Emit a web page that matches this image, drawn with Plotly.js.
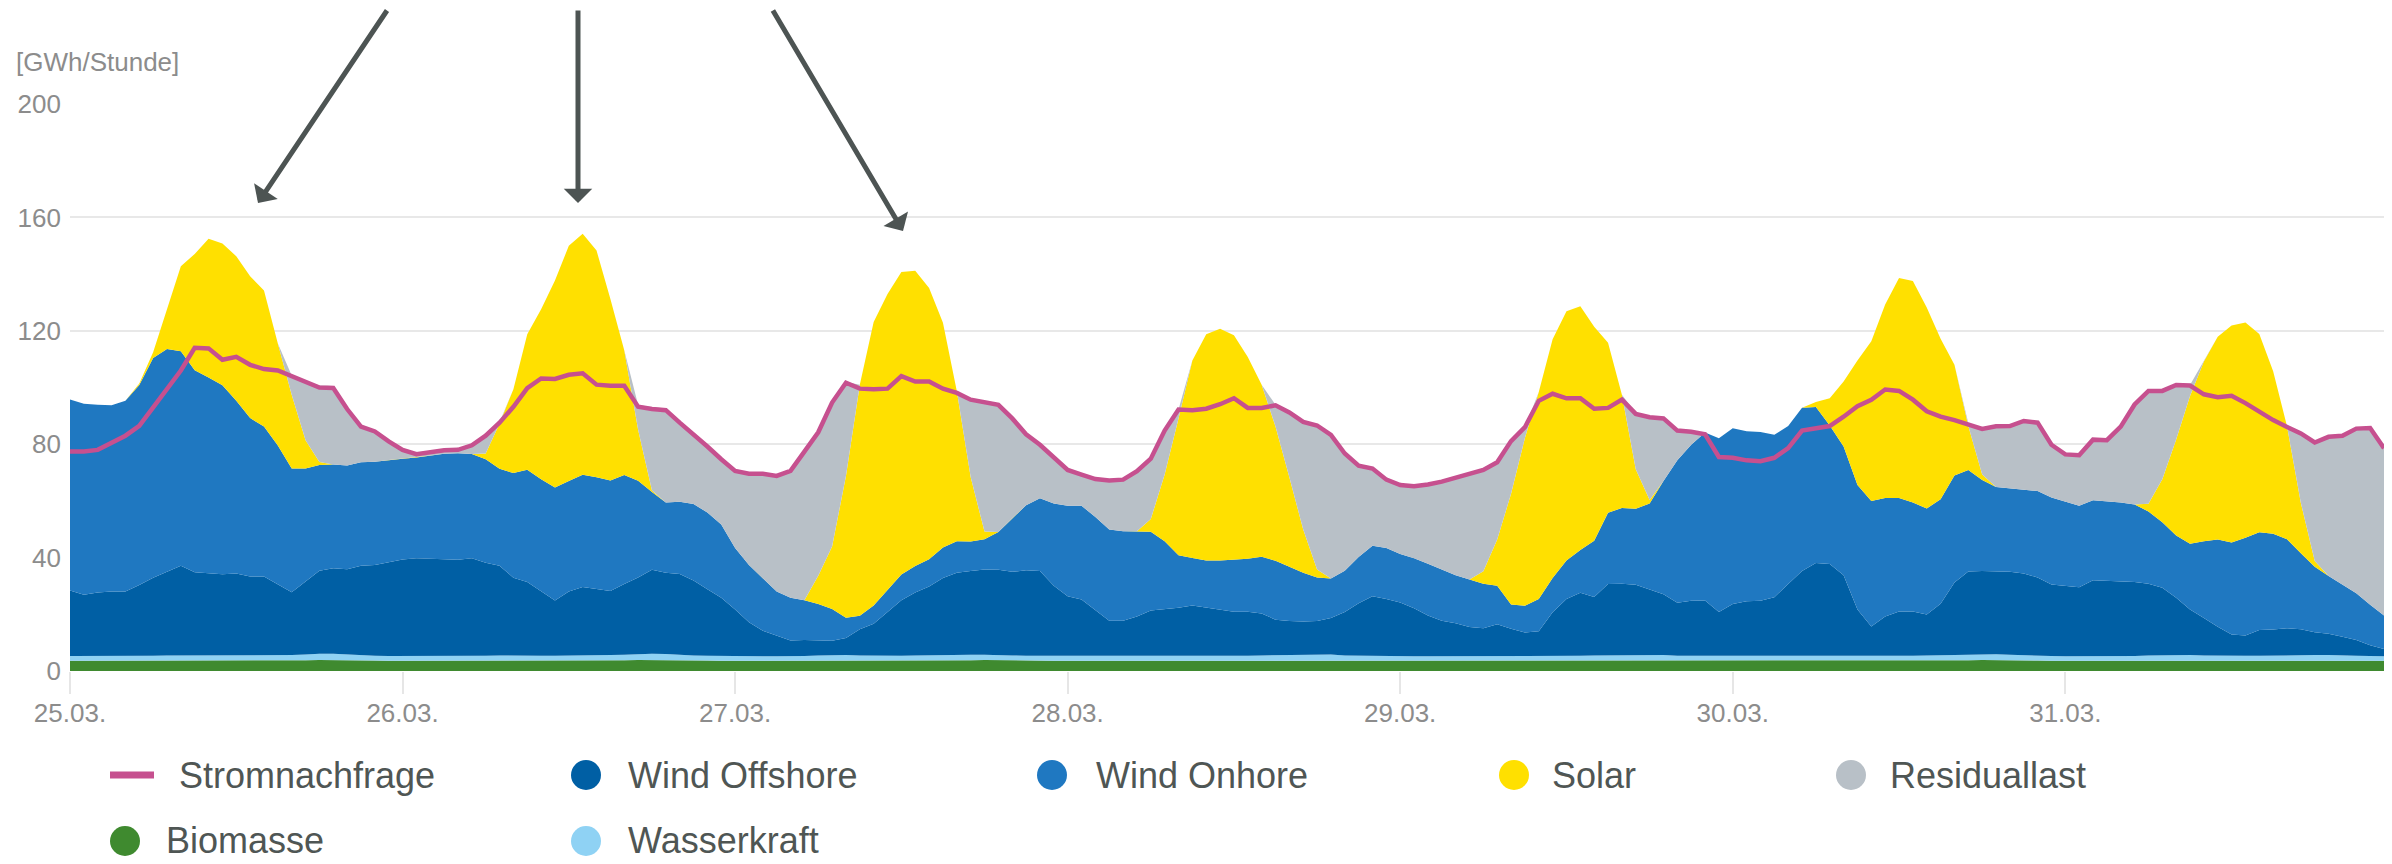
<!DOCTYPE html>
<html>
<head>
<meta charset="utf-8">
<script src="https://cdn.plot.ly/plotly-3.0.1.min.js"></script>
<style>
  html, body { margin: 0; padding: 0; background: #ffffff; }
  #chart { width: 2392px; height: 864px; }
</style>
</head>
<body>
<div id="chart"></div>
<script>
// ---------------- DATA (hourly, 25.03. 00:00 – 31.03. 23:00) ----------------
const startYear = 2023, startMonth = 2, startDay = 25; // 25.03.

const stromnachfrage = [
  77.4, 77.4, 78.0, 80.6, 83.0, 86.5, 93.0, 100.0, 106.0, 114.0, 113.8, 109.8, 110.8, 108.0, 106.5, 106.0, 104.0, 102.0, 100.0, 99.8, 92.4, 86.2, 84.5, 81.0,
  78.0, 76.5, 77.3, 77.9, 78.0, 79.6, 83.0, 87.6, 93.2, 99.8, 103.2, 103.0, 104.5, 105.0, 101.0, 100.6, 100.6, 93.2, 92.4, 92.0, 87.6, 83.5, 79.2, 74.7,
  70.6, 69.6, 69.6, 68.8, 70.6, 77.4, 84.2, 94.7, 101.7, 99.6, 99.4, 99.6, 104.0, 102.1, 102.1, 99.6, 98.1, 95.7, 94.9, 93.9, 89.1, 83.5, 79.8, 75.5,
  70.9, 69.3, 67.7, 67.2, 67.5, 70.5, 74.9, 84.8, 92.2, 92.0, 92.5, 94.1, 96.2, 92.8, 92.8, 93.7, 91.2, 87.9, 86.6, 83.3, 76.7, 72.4, 71.4, 67.5,
  65.6, 65.2, 65.8, 66.8, 68.1, 69.7, 70.9, 73.6, 81.1, 86.0, 95.3, 97.8, 96.2, 96.2, 92.5, 92.8, 95.7, 90.7, 89.5, 89.1, 84.8, 84.4, 83.5, 75.5,
  75.2, 74.3, 74.0, 75.2, 78.6, 84.8, 85.4, 86.4, 89.7, 93.4, 95.7, 99.3, 98.8, 95.7, 91.6, 89.7, 88.5, 87.0, 85.4, 86.3, 86.4, 88.2, 87.6, 79.8,
  76.4, 76.1, 81.6, 81.4, 86.2, 94.0, 98.8, 98.8, 100.9, 100.7, 97.6, 96.6, 97.1, 94.5, 91.5, 88.5, 86.1, 83.8, 80.6, 82.6, 83.0, 85.5, 85.7, 78.6
];

const biomasse = [
  3.6, 3.6, 3.6, 3.6, 3.6, 3.7, 3.7, 3.7, 3.7, 3.8, 3.8, 3.8, 3.8, 3.8, 3.8, 3.8, 3.8, 3.8, 3.9, 3.9, 3.8, 3.7, 3.7, 3.6,
  3.6, 3.6, 3.6, 3.6, 3.6, 3.6, 3.7, 3.7, 3.7, 3.8, 3.8, 3.8, 3.8, 3.8, 3.8, 3.8, 3.8, 3.9, 3.9, 3.9, 3.8, 3.7, 3.7, 3.6,
  3.6, 3.6, 3.6, 3.6, 3.6, 3.6, 3.7, 3.7, 3.8, 3.8, 3.8, 3.8, 3.8, 3.8, 3.8, 3.8, 3.8, 3.8, 3.9, 3.8, 3.8, 3.7, 3.7, 3.6,
  3.6, 3.6, 3.6, 3.6, 3.6, 3.6, 3.7, 3.7, 3.7, 3.8, 3.8, 3.8, 3.8, 3.8, 3.8, 3.8, 3.8, 3.8, 3.8, 3.8, 3.7, 3.7, 3.7, 3.6,
  3.6, 3.6, 3.6, 3.6, 3.6, 3.6, 3.6, 3.7, 3.7, 3.7, 3.8, 3.8, 3.8, 3.8, 3.8, 3.8, 3.8, 3.8, 3.8, 3.8, 3.7, 3.7, 3.7, 3.6,
  3.6, 3.6, 3.6, 3.6, 3.6, 3.6, 3.7, 3.7, 3.7, 3.8, 3.8, 3.8, 3.8, 3.8, 3.8, 3.8, 3.8, 3.8, 3.9, 3.9, 3.8, 3.7, 3.7, 3.6,
  3.6, 3.6, 3.6, 3.6, 3.6, 3.6, 3.7, 3.7, 3.7, 3.8, 3.8, 3.8, 3.8, 3.8, 3.8, 3.8, 3.8, 3.8, 3.8, 3.8, 3.7, 3.7, 3.7, 3.6
];

const wasserkraft = [
  1.7, 1.7, 1.6, 1.6, 1.6, 1.6, 1.7, 1.8, 1.8, 1.7, 1.6, 1.6, 1.6, 1.6, 1.6, 1.7, 1.8, 2.0, 2.2, 2.2, 2.0, 1.8, 1.7, 1.7,
  1.7, 1.6, 1.6, 1.6, 1.6, 1.6, 1.7, 1.8, 1.7, 1.6, 1.6, 1.6, 1.6, 1.6, 1.7, 1.8, 1.9, 2.1, 2.2, 2.1, 1.9, 1.8, 1.7, 1.7,
  1.7, 1.6, 1.6, 1.6, 1.6, 1.7, 1.8, 1.9, 1.8, 1.7, 1.6, 1.6, 1.6, 1.7, 1.8, 1.9, 2.0, 1.9, 1.8, 1.7, 1.7, 1.7, 1.7, 1.6,
  1.6, 1.6, 1.6, 1.6, 1.6, 1.6, 1.7, 1.7, 1.7, 1.6, 1.6, 1.6, 1.6, 1.6, 1.7, 1.8, 1.9, 2.0, 2.1, 2.0, 1.8, 1.7, 1.7, 1.6,
  1.6, 1.6, 1.6, 1.6, 1.6, 1.6, 1.7, 1.7, 1.7, 1.6, 1.6, 1.6, 1.6, 1.6, 1.7, 1.7, 1.8, 1.9, 1.9, 1.8, 1.7, 1.7, 1.6, 1.6,
  1.6, 1.6, 1.6, 1.6, 1.6, 1.6, 1.7, 1.7, 1.7, 1.6, 1.6, 1.6, 1.6, 1.6, 1.7, 1.8, 1.9, 2.0, 2.1, 2.0, 1.9, 1.8, 1.7, 1.7,
  1.6, 1.6, 1.6, 1.6, 1.6, 1.7, 1.8, 1.9, 1.9, 1.8, 1.7, 1.6, 1.6, 1.6, 1.6, 1.7, 1.7, 1.8, 1.8, 1.8, 1.7, 1.7, 1.6, 1.6
];

const windOffshore = [
  23.1, 21.6, 22.5, 22.8, 22.8, 25.0, 27.5, 29.6, 31.6, 29.3, 29.0, 28.7, 29.0, 27.9, 27.9, 25.2, 22.2, 25.8, 29.3, 30.1, 30.1, 31.6, 32.0, 33.1,
  34.0, 34.6, 34.4, 34.0, 34.0, 34.6, 32.8, 31.6, 27.5, 26.0, 22.8, 19.5, 22.6, 24.2, 23.4, 22.6, 25.0, 27.0, 29.6, 28.7, 28.5, 26.4, 23.4, 20.5,
  16.4, 12.0, 9.0, 7.3, 5.6, 5.6, 5.4, 5.1, 6.0, 9.2, 11.3, 15.3, 19.6, 22.2, 24.2, 27.1, 28.9, 29.6, 30.1, 30.2, 29.5, 30.1, 29.9, 24.9,
  21.2, 20.0, 16.3, 12.5, 12.5, 14.0, 15.9, 16.4, 16.9, 17.7, 17.0, 16.4, 15.5, 15.5, 14.8, 12.5, 11.9, 11.7, 11.7, 12.9, 15.3, 18.5, 21.0, 20.2,
  19.0, 16.9, 14.4, 12.5, 11.6, 10.3, 9.8, 11.1, 9.5, 8.3, 8.6, 15.3, 20.0, 22.2, 20.6, 25.2, 25.2, 24.7, 23.1, 21.5, 18.7, 19.4, 19.6, 15.6,
  18.4, 19.4, 19.6, 20.8, 25.5, 30.1, 32.7, 32.3, 28.4, 16.3, 10.3, 13.8, 15.6, 15.6, 14.4, 18.1, 25.5, 29.3, 29.3, 29.3, 29.3, 28.9, 27.6, 25.2,
  24.9, 24.3, 26.8, 26.6, 26.3, 26.1, 25.3, 23.8, 20.2, 16.1, 13.2, 10.2, 7.5, 7.1, 9.1, 9.1, 9.6, 9.1, 8.1, 7.5, 6.7, 5.5, 3.8, 2.6
];

const windOnshore = [
  67.4, 67.4, 66.2, 65.7, 67.3, 70.6, 77.5, 78.5, 75.7, 71.3, 69.1, 66.7, 60.9, 55.9, 52.9, 48.8, 43.6, 39.8, 37.3, 36.6, 36.6, 36.5, 36.4, 36.0,
  35.6, 35.5, 36.4, 37.4, 37.6, 36.7, 36.5, 34.2, 36.9, 39.6, 39.4, 39.8, 39.0, 39.6, 39.4, 39.0, 38.4, 34.1, 27.4, 24.7, 25.5, 27.0, 27.1, 25.9,
  21.7, 20.2, 18.5, 15.5, 15.0, 14.1, 12.7, 11.2, 7.2, 4.8, 6.4, 7.8, 9.0, 9.3, 9.6, 10.8, 11.1, 10.4, 10.7, 13.3, 18.9, 23.0, 25.6, 29.0,
  31.9, 33.1, 32.8, 32.2, 31.6, 30.1, 27.8, 24.0, 18.5, 16.8, 16.6, 17.2, 18.3, 18.7, 20.0, 20.8, 19.2, 17.2, 15.4, 13.9, 14.6, 16.3, 17.8, 18.0,
  17.1, 17.7, 18.2, 18.0, 17.0, 16.8, 15.7, 13.6, 8.6, 9.4, 11.4, 12.1, 13.6, 15.1, 19.8, 25.1, 26.7, 26.8, 30.3, 39.9, 50.2, 55.0, 59.2, 61.3,
  62.0, 60.0, 59.5, 57.3, 55.7, 57.6, 55.0, 48.9, 45.4, 43.9, 44.3, 41.8, 40.0, 38.4, 37.4, 36.9, 37.8, 35.8, 32.1, 29.7, 29.4, 29.4, 30.5, 30.7,
  29.7, 28.8, 28.2, 28.1, 27.9, 27.3, 25.5, 23.1, 22.0, 23.2, 27.1, 30.8, 32.4, 34.5, 34.4, 33.8, 31.4, 26.8, 23.1, 20.4, 18.2, 16.5, 14.3, 11.8
];

const solar = [
  0, 0, 0, 0, 0, 0.5, 2, 14, 30, 41, 49, 50, 51, 50, 48, 36, 26, 10, 1, 0, 0, 0, 0, 0,
  0, 0, 0, 0, 0, 0, 2, 16, 29.6, 47.8, 60, 73, 83, 85, 80, 64, 44, 18, 0.6, 0, 0, 0, 0, 0,
  0, 0, 0, 0, 0, 0, 10, 22, 50, 81.5, 100, 104.5, 106.7, 104.2, 95.7, 79.2, 53, 22.7, 2.7, 0, 0, 0, 0, 0,
  0, 0, 0, 0, 0, 0, 4.5, 23.5, 48.3, 69.6, 79.8, 81.7, 79.2, 71.2, 60.7, 47.3, 31.5, 15.2, 2.8, 0, 0, 0, 0, 0,
  0, 0, 0, 0, 0, 0, 4.4, 16.3, 39, 59.2, 73, 84.2, 87.9, 86, 75.5, 60, 39.9, 14, 1.2, 0, 0, 0, 0, 0,
  0, 0, 0, 0, 0, 0, 1.8, 9.6, 22.9, 43.9, 56.3, 68.3, 77.6, 78.2, 70.9, 56.6, 39, 15.5, 1.9, 0, 0, 0, 0, 0,
  0, 0, 0, 0, 0, 0, 2.7, 15.1, 33.9, 52.1, 63.4, 71.5, 76.6, 75.9, 70, 57.3, 39.8, 17.8, 2, 0, 0, 0, 0, 0
];

const residuallast = [
  0, 0, 0, 0, 0, 0, 0, 0, 0, 0, 0, 0, 0, 0, 0, 0, 6.8, 21, 27, 27.7, 20.3, 12.7, 10.7, 6.5,
  3.0, 1.0, 1.1, 1.1, 1.0, 2.9, 6.3, 0.4, 0, 0, 0, 0, 0, 0, 0, 0, 0, 8.7, 29.4, 33.2, 28.2, 24.7, 23.3, 22.9,
  27.1, 32.0, 36.7, 40.6, 44.6, 52.3, 50.7, 51.0, 33.1, 0, 0, 0, 0, 0, 0, 0, 0, 27.6, 46.0, 45.0, 35.3, 25.0, 18.9, 16.2,
  12.4, 10.8, 13.2, 17.1, 18.0, 21.0, 21.3, 15.5, 3.1, 0, 0, 0, 0, 0, 0, 7.7, 23.2, 38.4, 51.3, 51.1, 41.4, 32.2, 27.2, 23.9,
  24.1, 25.2, 27.8, 30.9, 34.1, 37.2, 35.6, 27.2, 18.6, 3.7, 0, 0, 0, 0, 0, 0, 0, 19.8, 29.5, 22.3, 10.5, 4.6, 0, 0,
  0, 0, 0, 0, 0, 0, 0, 0, 0, 0, 0, 0, 0, 0, 0, 0, 0, 1.0, 16.7, 21.9, 22.3, 24.5, 24.1, 18.5,
  16.4, 17.6, 21.2, 21.3, 26.6, 35.2, 39.9, 31.4, 19.4, 3.9, 0, 0, 0, 0, 0, 0, 0, 24.7, 42.0, 49.3, 52.7, 58.1, 62.2, 58.8
];

const seriesNames = ['Stromnachfrage', 'Wind Offshore', 'Wind Onhore', 'Solar', 'Residuallast', 'Biomasse', 'Wasserkraft'];
const yAxisLabel = '[GWh/Stunde]';

// ---------------- time stamps ----------------
const hours = [];
for (let i = 0; i < stromnachfrage.length; i++) {
  const d = new Date(Date.UTC(startYear, startMonth, startDay, i));
  hours.push(d.toISOString().slice(0, 16).replace('T', ' '));
}

// ---------------- styling ----------------
const COLORS = {
  'Stromnachfrage': '#c6508f',
  'Wind Offshore': '#005fa4',
  'Wind Onhore': '#1f78c1',
  'Solar': '#ffe000',
  'Residuallast': '#b8c0c7',
  'Biomasse': '#3f8a2f',
  'Wasserkraft': '#8fd2f4'
};

function area(name, y) {
  return {
    type: 'scatter', mode: 'lines', x: hours, y: y, name: name,
    stackgroup: 'energie', fillcolor: COLORS[name],
    line: { width: 0, color: COLORS[name] }, showlegend: false
  };
}

const traces = [
  area('Biomasse', biomasse),
  area('Wasserkraft', wasserkraft),
  area('Wind Offshore', windOffshore),
  area('Wind Onhore', windOnshore),
  area('Solar', solar),
  area('Residuallast', residuallast),
  {
    type: 'scatter', mode: 'lines', x: hours, y: stromnachfrage, name: 'Stromnachfrage',
    line: { color: COLORS['Stromnachfrage'], width: 4.5 }, showlegend: false
  }
];

// pixel -> paper helpers (plot area: x 70..2384, y 104..671)
const PL = 70, PW = 2314, PB = 671, PH = 567;
const px = X => (X - PL) / PW;
const py = Y => (PB - Y) / PH;

// legend (drawn manually: items laid out in a grid)
const legendLayout = [
  { name: 'Stromnachfrage', kind: 'line',   sx: 132,  tx: 177,  row: 775 },
  { name: 'Wind Offshore',  kind: 'circle', sx: 586,  tx: 626,  row: 775 },
  { name: 'Wind Onhore',    kind: 'circle', sx: 1052, tx: 1094, row: 775 },
  { name: 'Solar',          kind: 'circle', sx: 1514, tx: 1550, row: 775 },
  { name: 'Residuallast',   kind: 'circle', sx: 1851, tx: 1888, row: 775 },
  { name: 'Biomasse',       kind: 'circle', sx: 125,  tx: 164,  row: 841 },
  { name: 'Wasserkraft',    kind: 'circle', sx: 586,  tx: 626,  row: 841 }
];

const shapes = [];
const annotations = [];
legendLayout.forEach(it => {
  const c = COLORS[it.name];
  if (it.kind === 'line') {
    shapes.push({ type: 'line', xref: 'paper', yref: 'paper',
      x0: px(it.sx - 22), x1: px(it.sx + 22), y0: py(it.row), y1: py(it.row),
      line: { color: c, width: 7 } });
  } else {
    shapes.push({ type: 'circle', xref: 'paper', yref: 'paper',
      xsizemode: 'pixel', ysizemode: 'pixel', xanchor: px(it.sx), yanchor: py(it.row),
      x0: -15, x1: 15, y0: -15, y1: 15, fillcolor: c, line: { width: 0 } });
  }
  annotations.push({ xref: 'paper', yref: 'paper', x: px(it.tx), y: py(it.row),
    xanchor: 'left', yanchor: 'middle', showarrow: false, text: it.name,
    font: { size: 36, color: '#4f5654' } });
});

// y axis unit label
annotations.push({ xref: 'paper', yref: 'paper', x: px(14), y: py(62), xanchor: 'left', yanchor: 'middle',
  showarrow: false, text: yAxisLabel, font: { size: 26, color: '#8c8c8c' } });

// arrows
const arrowStyle = { text: '', showarrow: true, arrowhead: 1, arrowsize: 0.95, arrowwidth: 5,
  arrowcolor: '#4d5453', standoff: 0, xref: 'paper', yref: 'paper' };
annotations.push(Object.assign({}, arrowStyle, { x: px(258), y: py(203), ax: 130, ay: -194 }));
annotations.push(Object.assign({}, arrowStyle, { x: px(578), y: py(203), ax: 0, ay: -194 }));
annotations.push(Object.assign({}, arrowStyle, { x: px(903), y: py(231), ax: -131, ay: -222 }));

const layout = {
  width: 2392, height: 864,
  margin: { l: 70, r: 8, t: 104, b: 193, pad: 0 },
  paper_bgcolor: '#ffffff', plot_bgcolor: '#ffffff',
  showlegend: false,
  font: { family: 'Liberation Sans, Arial, Helvetica, sans-serif', color: '#8c8c8c' },
  xaxis: {
    type: 'date', range: [hours[0], hours[hours.length - 1]],
    tickformat: '%d.%m.', dtick: 86400000, tick0: hours[0],
    ticks: 'outside', ticklen: 22, tickwidth: 2, tickcolor: '#e6e6e6',
    showgrid: false, zeroline: false, showline: false,
    tickfont: { size: 26, color: '#8c8c8c' }, ticklabelstandoff: -3
  },
  yaxis: {
    range: [0, 200], dtick: 40, tick0: 0,
    showgrid: true, gridcolor: '#e8e8e8', gridwidth: 2,
    zeroline: false, showline: false, ticks: '',
    tickfont: { size: 26, color: '#8c8c8c' }, ticklabelstandoff: 8
  },
  shapes: shapes,
  annotations: annotations
};

Plotly.newPlot('chart', traces, layout, { displayModeBar: false, staticPlot: true });
</script>
</body>
</html>
